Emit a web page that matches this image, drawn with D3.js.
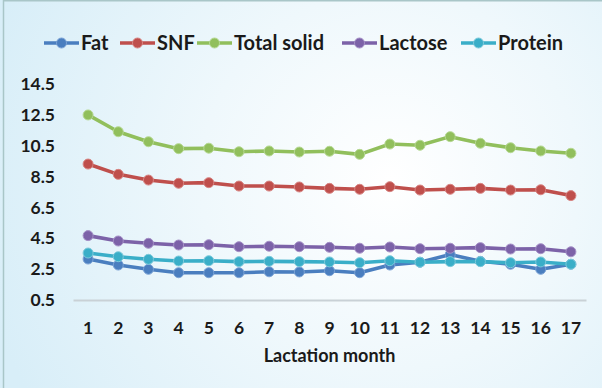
<!DOCTYPE html>
<html>
<head>
<meta charset="utf-8">
<script src="https://cdn.jsdelivr.net/npm/d3@7"></script>
<style>
  html, body { margin: 0; padding: 0; background: #fff; }
  svg { display: block; }
  text { font-family: Lato, "Open Sans", sans-serif; font-weight: 700; fill: #1a1a1a; }
</style>
</head>
<body>
<svg id="chart" width="602" height="388"></svg>
<script>
// Lactation months on the x axis
const months = ["1","2","3","4","5","6","7","8","9","10","11","12","13","14","15","16","17"];

// Milk composition (%) per lactation month
const fat = [3.13, 2.74, 2.46, 2.24, 2.24, 2.24, 2.30, 2.29, 2.37, 2.24, 2.74, 2.92, 3.42, 2.98, 2.79, 2.46, 2.79];
const snf = [9.30, 8.63, 8.26, 8.05, 8.09, 7.87, 7.87, 7.81, 7.72, 7.66, 7.83, 7.61, 7.66, 7.72, 7.61, 7.63, 7.25];
const totalSolid = [12.49, 11.40, 10.75, 10.30, 10.33, 10.10, 10.15, 10.08, 10.13, 9.93, 10.60, 10.52, 11.08, 10.65, 10.36, 10.15, 10.00];
const lactose = [4.65, 4.30, 4.15, 4.04, 4.06, 3.93, 3.96, 3.93, 3.89, 3.83, 3.91, 3.80, 3.83, 3.87, 3.78, 3.80, 3.60];
const protein = [3.52, 3.28, 3.11, 3.00, 3.02, 2.96, 2.98, 2.96, 2.94, 2.89, 3.02, 2.92, 2.96, 2.96, 2.89, 2.94, 2.79];

// Y axis tick labels
const yTicks = [0.5, 2.5, 4.5, 6.5, 8.5, 10.5, 12.5, 14.5];

const seriesNames = ["Fat", "SNF", "Total solid", "Lactose", "Protein"];
const seriesValues = [fat, snf, totalSolid, lactose, protein];
const seriesColors = ["#4a7ebf", "#bf4f4c", "#91bf5c", "#7c62a8", "#3aaec8"];
const seriesRims = ["#7ba3d6", "#d88583", "#b6d993", "#a590c7", "#7dcadb"];

const svg = d3.select("#chart");
const W = 602, H = 388;

// Background panel
const defs = svg.append("defs");
const grad = defs.append("radialGradient")
  .attr("id", "bg").attr("gradientUnits", "userSpaceOnUse")
  .attr("cx", 390).attr("cy", 180).attr("r", 420);
grad.append("stop").attr("offset", "0").attr("stop-color", "#ffffff");
grad.append("stop").attr("offset", "0.45").attr("stop-color", "#eff8fc");
grad.append("stop").attr("offset", "1").attr("stop-color", "#d8eef8");
svg.append("rect").attr("width", W).attr("height", H).attr("fill", "url(#bg)");
svg.append("line").attr("x1", 3.5).attr("x2", 3.5).attr("y1", 0).attr("y2", H)
  .attr("stroke", "#a9c6c8").attr("stroke-width", 1.5);
svg.append("line").attr("x1", 3).attr("x2", W).attr("y1", 0.75).attr("y2", 0.75)
  .attr("stroke", "#a9c6c8").attr("stroke-width", 1.5);

// Scales
const x = d3.scaleBand().domain(months).range([73, 586]);
const y = d3.scaleLinear().domain([0.5, 14.5]).range([299.5, 84]);
const cx = d => x(d) + x.bandwidth() / 2;

// Y axis labels
const yAxis = svg.append("g").attr("transform", "translate(55,0)")
  .call(d3.axisLeft(y).tickValues(yTicks).tickSize(0).tickPadding(0).tickFormat(d3.format(".1f")));
yAxis.select(".domain").remove();
yAxis.selectAll("text").attr("font-size", 17.5).attr("dy", "0.34em")
  .style("font-family", "Lato, sans-serif").style("font-weight", 700).attr("fill", "#1a1a1a");

// X axis line and labels
const xAxis = svg.append("g").attr("transform", "translate(0,300)")
  .call(d3.axisBottom(x).tickSize(0).tickPadding(0));
xAxis.select(".domain").attr("stroke", "#c9d1d6").attr("stroke-width", 2);
xAxis.selectAll("text").attr("font-size", 17.5).attr("y", 28).attr("dy", "0.34em")
  .style("font-family", "Lato, sans-serif").style("font-weight", 700).attr("fill", "#1a1a1a");

svg.append("text").attr("x", (73 + 586) / 2).attr("y", 356).attr("dy", "0.34em")
  .attr("text-anchor", "middle").attr("font-size", 18).text("Lactation month");

// Series lines and markers
const line = d3.line().x((d, i) => cx(months[i])).y(d => y(d));
seriesValues.forEach((vals, k) => {
  const g = svg.append("g");
  g.append("path").datum(vals).attr("d", line)
    .attr("fill", "none").attr("stroke", seriesColors[k]).attr("stroke-width", 3.6)
    .attr("stroke-linejoin", "round");
  g.selectAll("circle").data(vals).join("circle")
    .attr("cx", (d, i) => cx(months[i])).attr("cy", d => y(d)).attr("r", 5)
    .attr("fill", seriesColors[k]).attr("stroke", seriesRims[k]).attr("stroke-width", 1);
});

// Legend
const legendX = [44, 120, 197, 342, 461];
const legend = svg.append("g").attr("transform", "translate(0,43)");
seriesNames.forEach((name, k) => {
  const g = legend.append("g").attr("transform", `translate(${legendX[k]},0)`);
  g.append("line").attr("x1", 0).attr("x2", 35).attr("y1", 0).attr("y2", 0)
    .attr("stroke", seriesColors[k]).attr("stroke-width", 3.6);
  g.append("circle").attr("cx", 17.5).attr("cy", 0).attr("r", 5)
    .attr("fill", seriesColors[k]).attr("stroke", seriesRims[k]).attr("stroke-width", 1);
  g.append("text").attr("x", 37).attr("y", 0).attr("dy", "0.35em")
    .attr("font-size", 20).text(name);
});
</script>
</body>
</html>
